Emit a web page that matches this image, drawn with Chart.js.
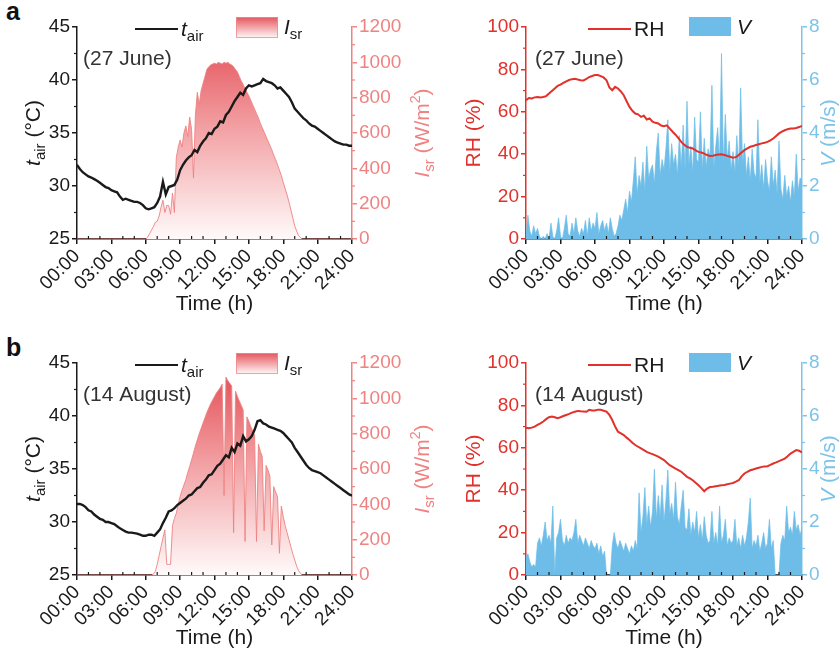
<!DOCTYPE html>
<html>
<head>
<meta charset="utf-8">
<script src="https://cdn.jsdelivr.net/npm/chart.js@4.4.1/dist/chart.umd.min.js"></script>
<style>
  body { margin: 0; background: #fff; }
  #wrap { position: relative; width: 839px; height: 650px; overflow: hidden; }
  canvas { position: absolute; }
  .tag { position: absolute; font: bold 25px 'Liberation Sans', Arial, sans-serif; color: #111; }
</style>
</head>
<body>
<div id="wrap">
  <div class="tag" style="left:6px;top:-3px">a</div>
  <div class="tag" style="left:6px;top:333px">b</div>
  <canvas id="ca" width="440" height="325" style="left:0;top:0"></canvas>
  <canvas id="cb" width="399" height="325" style="left:440px;top:0"></canvas>
  <canvas id="cc" width="440" height="320" style="left:0;top:330px"></canvas>
  <canvas id="cd" width="399" height="320" style="left:440px;top:330px"></canvas>
</div>
<script>
const FONT = "'Liberation Sans', Arial, sans-serif";

// sampling steps (hours) of the series below
const STEP_T = 0.25;   // t_air and RH, every 15 min
const STEP_S = 1 / 6;  // I_sr and V, every 10 min

const xTicks = ['00:00', '03:00', '06:00', '09:00', '12:00', '15:00', '18:00', '21:00', '24:00'];
const dates = ['(27 June)', '(14 August)'];

// 27 June
const tairJune = [
  32.0, 31.6, 31.3, 31.1, 30.9, 30.8, 30.65, 30.5, 30.3, 30.1, 29.9, 29.8,
  29.6, 29.5, 29.4, 29.0, 28.7, 28.8, 28.7, 28.6, 28.5, 28.5, 28.4, 28.2,
  27.9, 27.8, 27.9, 28.0, 28.4, 29.0, 30.4, 29.2, 29.9, 30.0, 30.1, 30.6,
  31.5, 32.0, 32.4, 32.7, 32.9, 33.4, 33.2, 33.8, 34.2, 34.5, 35.0, 34.9,
  35.4, 35.6, 36.1, 36.0, 36.7, 37.0, 37.5, 38.0, 38.4, 38.8, 38.6, 39.2,
  39.5, 39.4, 39.5, 39.6, 39.7, 40.1, 39.9, 39.8, 39.7, 39.5, 39.2, 39.3,
  39.0, 38.7, 38.4, 37.9, 37.3, 37.0, 36.7, 36.4, 36.2, 35.9, 35.7, 35.6,
  35.4, 35.2, 35.0, 34.8, 34.6, 34.4, 34.2, 34.1, 34.0, 33.9, 33.9, 33.8,
  33.8
];
const isrJune = [
  0, 0, 0, 0, 0, 0,  0, 0, 0, 0, 0, 0,  0, 0, 0, 0, 0, 0,
  0, 0, 0, 0, 0, 0,  0, 0, 0, 0, 0, 0,  0, 0, 0, 0, 0, 0,
  0, 10, 30, 50, 70, 95,
  100, 130, 180, 220, 150, 190,
  190, 140, 260, 150, 460, 520,
  560, 520, 600, 640, 580, 690,
  620, 345, 700, 830, 760, 840,
  880, 920, 960, 975, 985, 990,
  995, 990, 1000, 995, 990, 1000,
  995, 1000, 990, 985, 975, 960,
  945, 920, 895, 875, 850, 830,
  810, 785, 760, 735, 710, 685,
  655, 630, 605, 580, 555, 530,
  505, 475, 450, 420, 390, 360,
  320, 285, 250, 210, 165, 120,
  75, 45, 20, 8, 0, 0,
  0, 0, 0, 0, 0, 0,  0, 0, 0, 0, 0, 0,  0, 0, 0, 0, 0, 0,
  0, 0, 0, 0, 0, 0,  0
];
const rhJune = [
  65.5, 66.5, 66.3, 66.8, 67.0, 66.8, 67.0, 67.4, 68.6, 69.8, 71.0, 72.2,
  72.8, 73.6, 74.4, 75.0, 75.4, 75.6, 75.2, 74.9, 74.8, 75.5, 76.4, 76.9,
  77.3, 77.3, 76.8, 76.2, 74.9, 71.5, 70.2, 71.8, 71.0, 69.6, 67.8, 65.0,
  62.3, 60.5, 59.2, 58.8, 57.6, 58.2, 56.4, 56.9, 55.3, 54.8, 54.5, 53.5,
  53.2, 53.6, 52.1, 50.6, 49.2, 47.6, 45.8, 44.5, 43.5, 43.0, 42.7, 41.8,
  41.1, 40.8, 40.3, 39.6, 39.2, 39.3, 39.6, 39.9, 40.0, 39.6, 39.2, 38.8,
  38.3, 38.6, 39.6, 40.8, 41.9, 42.7, 43.5, 43.9, 44.3, 44.7, 45.1, 45.4,
  45.8, 46.5, 47.4, 48.6, 49.8, 50.6, 51.3, 51.8, 52.1, 52.1, 52.4, 52.8,
  53.4
];
const vJune = [
  0.1, 0.9, 0.3, 0.1, 0.5, 0.2,
  0.4, 0.1, 0.0, 0.1, 0.0, 0.2,
  0.0, 0.6, 0.1, 0.0, 0.3, 0.8,
  0.1, 0.0, 0.4, 0.9, 0.2, 0.1,
  0.6, 0.2, 0.8, 0.3, 0.1, 0.4,
  0.2, 0.7, 0.1, 0.8, 0.3, 0.6,
  0.4, 1.0, 0.2, 0.5, 0.7, 0.3,
  0.6, 0.2, 0.8, 0.4, 0.1, 0.2,
  0.5, 0.9, 0.7, 1.1, 1.5, 1.0,
  1.8, 1.4, 2.2, 3.1, 1.7, 2.4,
  2.0, 2.9, 1.8, 3.5, 2.3, 2.6,
  2.8, 2.1, 3.3, 4.0, 2.4, 3.0,
  2.6, 3.4, 4.5, 2.5, 3.6, 2.8,
  3.2, 2.4, 3.9, 2.7, 4.3, 2.6,
  5.2, 2.8, 3.5, 2.5, 4.6, 3.0,
  2.9, 4.8, 2.6, 3.8, 2.7, 3.4,
  3.1, 5.8, 2.7, 3.5, 4.2, 2.9,
  7.0, 2.8, 4.7, 3.0, 3.7, 2.6,
  3.3, 2.5, 3.9, 2.7, 5.7, 2.8,
  3.6, 2.4, 3.1, 2.2, 3.4, 2.5,
  2.3, 4.5, 2.1, 2.8, 1.9, 3.0,
  2.2, 1.8, 3.1, 2.0, 2.6, 1.7,
  3.7, 1.9, 1.5, 2.4, 1.6, 2.0,
  1.4, 2.2, 1.6, 3.2, 1.8, 2.3,
  2.2
];

// 14 August
const tairAug = [
  31.7, 31.7, 31.6, 31.4, 31.1, 31.0, 30.7, 30.5, 30.3, 30.2, 30.0, 30.0,
  29.9, 29.8, 29.6, 29.4, 29.25, 29.1, 29.0, 29.0, 28.95, 28.9, 28.8, 28.7,
  28.7, 28.8, 28.8, 28.7, 29.0, 29.3, 29.9, 30.4, 31.0, 31.1, 31.3, 31.6,
  31.8, 32.0, 32.2, 32.5, 32.6, 32.9, 33.2, 33.3, 33.7, 34.0, 34.4, 34.5,
  34.9, 35.3, 35.5, 35.9, 36.3, 36.1, 37.0, 36.6, 37.4, 37.2, 38.1, 37.6,
  37.8, 38.1, 38.7, 39.5, 39.6, 39.3, 39.2, 39.0, 38.9, 38.8, 38.7, 38.6,
  38.4, 38.1, 37.8, 37.5, 37.0, 36.6, 36.2, 35.8, 35.4, 35.1, 34.9, 34.8,
  34.7, 34.6, 34.4, 34.2, 34.0, 33.8, 33.6, 33.4, 33.2, 33.0, 32.8, 32.6,
  32.5
];
const isrAug = [
  0, 0, 0, 0, 0, 0,  0, 0, 0, 0, 0, 0,  0, 0, 0, 0, 0, 0,
  0, 0, 0, 0, 0, 0,  0, 0, 0, 0, 0, 0,  0, 0, 0, 0, 0, 0,
  0, 0, 0, 0, 5, 20,
  60, 110, 160, 210, 255, 60,
  60, 60, 280, 320, 350, 400,
  444, 480, 510, 540, 580, 615,
  652, 690, 730, 765, 800, 830,
  860, 890, 920, 945, 970, 990,
  1010, 1030, 1045, 1060, 1080, 450,
  1120, 1100, 1085, 1070, 240, 1040,
  1011, 985, 960, 935, 190, 895,
  870, 840, 815, 790, 190, 740,
  700, 670, 250, 620, 595, 560,
  170, 500, 470, 444, 123, 390,
  330, 280, 240, 200, 160, 120,
  85, 50, 25, 9, 0, 0,
  0, 0, 0, 0, 0, 0,  0, 0, 0, 0, 0, 0,  0, 0, 0, 0, 0, 0,
  0, 0, 0, 0, 0, 0,  0
];
const rhAug = [
  69.5, 69.2, 69.5, 70.0, 70.8, 71.5, 72.4, 73.5, 74.4, 74.8, 74.4, 74.0,
  74.4, 75.0, 75.5, 76.0, 76.6, 77.0, 77.4, 77.2, 77.1, 77.0, 77.9, 77.6,
  77.6, 78.0, 77.9, 77.5, 77.1, 75.5, 73.1, 70.0, 67.6, 66.8, 66.0, 64.8,
  63.7, 62.4, 61.3, 60.5, 59.7, 58.9, 58.1, 57.5, 57.0, 56.4, 55.8, 55.0,
  54.2, 53.0, 51.8, 51.0, 50.2, 49.5, 48.7, 47.5, 46.3, 45.6, 44.7, 43.5,
  42.3, 41.0, 39.5, 40.8, 41.5, 41.6, 41.9, 42.1, 42.3, 42.5, 42.8, 43.1,
  43.4, 44.0, 44.7, 46.5, 47.9, 48.7, 49.4, 49.8, 50.2, 50.6, 51.0, 51.2,
  51.3, 51.9, 52.6, 53.1, 53.7, 54.3, 54.9, 56.0, 57.3, 58.1, 58.9, 58.6,
  57.8
];
const vAug = [
  0.7, 0.8, 0.5, 0.3, 0.4, 0.3,
  1.2, 1.4, 1.1, 1.5, 2.0, 1.3,
  1.5, 1.2, 2.6, 0.0, 1.4, 1.6,
  2.1, 1.3, 1.1, 1.5, 1.2, 1.4,
  1.3, 1.6, 2.1, 1.2, 1.5, 1.3,
  1.1, 1.4, 1.2, 1.0, 1.3, 1.1,
  1.0, 1.2, 0.8, 1.1, 0.7, 0.9,
  0.0, 0.0, 0.0, 1.1, 1.6, 1.2,
  1.0, 1.3, 1.1, 0.9, 1.2, 1.0,
  0.8, 1.1, 0.9, 1.3, 1.0, 3.1,
  1.6, 2.2, 3.3, 1.9, 2.6, 1.8,
  2.4, 4.0, 2.1, 3.0, 2.2, 3.4,
  2.0, 2.8, 3.96, 2.3, 2.7, 2.1,
  3.5, 2.2, 1.9, 2.6, 3.2, 1.8,
  1.7, 2.5, 1.5, 2.0, 1.6, 2.4,
  1.4, 1.9, 1.3, 2.2, 1.5, 1.2,
  1.3, 2.4, 1.2, 1.6, 1.1, 2.6,
  1.2, 1.5, 2.1, 1.1, 1.4, 1.2,
  1.3, 2.1, 1.1, 1.4, 1.0, 1.5,
  1.1, 1.4, 2.0, 2.9, 1.0, 1.3,
  1.1, 1.5, 0.9, 1.2, 1.6, 1.0,
  1.2, 2.1, 1.0, 1.3, 0.0, 0.0,
  0.0, 1.2, 1.5, 1.3, 2.6, 1.6,
  1.8, 1.5, 2.4, 1.7, 1.9, 1.5,
  1.8
];

const BLACK = '#1a1a1a';
const ISR_AXIS = '#ef8282';
const RH_RED = '#e2302a';
const V_BLUE = '#6dbde8';
const V_AXIS = '#7cc3e8';

const pts = (vals, step) => vals.map((v, i) => ({ x: i * step, y: v }));

function isrFill(c) {
  const a = c.chart.chartArea;
  if (!a) return 'rgba(236,110,115,0.6)';
  const g = c.chart.ctx.createLinearGradient(0, a.top, 0, a.bottom);
  g.addColorStop(0, 'rgb(226,72,80)');
  g.addColorStop(0.5, 'rgb(243,165,168)');
  g.addColorStop(1, 'rgb(255,250,250)');
  return g;
}

// draw text made of pieces with their own font and vertical shift
function rich(ctx, parts, x, y, align) {
  let w = 0;
  parts.forEach(p => { ctx.font = p.f + ' ' + FONT; w += ctx.measureText(p.t).width; });
  let cx = align === 'center' ? x - w / 2 : x;
  ctx.textAlign = 'left';
  ctx.textBaseline = 'alphabetic';
  parts.forEach(p => {
    ctx.font = p.f + ' ' + FONT;
    ctx.fillText(p.t, cx, y + (p.dy || 0));
    cx += ctx.measureText(p.t).width;
  });
}

const decoPlugin = {
  id: 'deco',
  afterDraw(chart, args, o) {
    const ctx = chart.ctx, a = chart.chartArea;
    ctx.save();
    // minor ticks
    const xs = chart.scales.x;
    ctx.lineWidth = 1.2;
    ctx.strokeStyle = BLACK;
    for (let h = 1; h < 24; h++) {
      if (h % 3 === 0) continue;
      const px = xs.getPixelForValue(h);
      ctx.beginPath(); ctx.moveTo(px, a.bottom); ctx.lineTo(px, a.bottom - 3); ctx.stroke();
    }
    ['yL', 'yR'].forEach(k => {
      const s = chart.scales[k];
      const left = s.position === 'left';
      const x0 = left ? a.left : a.right;
      ctx.strokeStyle = s.options.border.color;
      for (let i = 0; i < s.ticks.length - 1; i++) {
        const py = s.getPixelForValue((s.ticks[i].value + s.ticks[i + 1].value) / 2);
        ctx.beginPath(); ctx.moveTo(x0, py); ctx.lineTo(x0 + (left ? -3 : 3), py); ctx.stroke();
      }
    });

    // axis titles
    const midY = (a.top + a.bottom) / 2;
    ctx.fillStyle = BLACK;
    rich(ctx, [{ t: 'Time (h)', f: '21px' }], (a.left + a.right) / 2, a.bottom + o.timeDy, 'center');
    [[o.leftTitle, a.left - o.leftTitleDx, o.leftColor], [o.rightTitle, a.right + o.rightTitleDx, o.rightColor]]
      .forEach(([parts, x, col]) => {
        ctx.save();
        ctx.translate(x, midY);
        ctx.rotate(-Math.PI / 2);
        ctx.fillStyle = col;
        rich(ctx, parts, 0, 0, 'center');
        ctx.restore();
      });

    // legend
    const lx = a.left + o.legendDx;
    ctx.strokeStyle = o.lineColor;
    ctx.lineWidth = 2;
    ctx.beginPath(); ctx.moveTo(lx, a.top + 2); ctx.lineTo(lx + 43, a.top + 2); ctx.stroke();
    ctx.fillStyle = BLACK;
    rich(ctx, o.lineLabel, lx + 46, a.top + 9, 'left');
    const bx = lx + 101, by = a.top - 10;
    if (o.boxGradient) {
      const g = ctx.createLinearGradient(0, by, 0, by + 21);
      g.addColorStop(0, 'rgb(228,85,92)');
      g.addColorStop(1, 'rgb(255,248,248)');
      ctx.fillStyle = g;
      ctx.fillRect(bx, by, 42, 21);
      ctx.strokeStyle = 'rgba(238,140,140,0.8)';
      ctx.lineWidth = 1;
      ctx.strokeRect(bx + 0.5, by + 0.5, 41, 20);
    } else {
      ctx.fillStyle = V_BLUE;
      ctx.fillRect(bx, by, 42, 19);
    }
    ctx.fillStyle = BLACK;
    rich(ctx, o.boxLabel, bx + 48, a.top + 7, 'left');

    // date note
    ctx.fillStyle = '#333';
    rich(ctx, [{ t: o.note, f: '21px' }], a.left + o.noteDx, a.top + 38, 'left');
    ctx.restore();
  }
};

function panel(id, cfg) {
  const tickFont = { family: FONT, size: 19 };
  new Chart(document.getElementById(id), {
    type: 'line',
    data: { datasets: cfg.datasets },
    plugins: [decoPlugin],
    options: {
      responsive: false,
      animation: false,
      layout: { padding: { top: cfg.top, left: 0, right: 0, bottom: 0 } },
      plugins: { legend: { display: false }, tooltip: { enabled: false }, deco: cfg.deco },
      elements: { point: { radius: 0 }, line: { tension: 0 } },
      scales: {
        x: {
          type: 'linear', min: 0, max: 24,
          ticks: {
            stepSize: 3, autoSkip: false, maxRotation: 45, minRotation: 45, padding: 1,
            color: BLACK, font: tickFont,
            callback: v => xTicks[v / 3]
          },
          grid: { display: true, drawOnChartArea: false, tickLength: 5, color: BLACK, lineWidth: 1.5 },
          border: { color: BLACK, width: 1.5 },
          afterFit: s => { s.height = cfg.xHeight; }
        },
        yL: {
          position: 'left', min: cfg.yL[0], max: cfg.yL[1],
          ticks: { stepSize: cfg.yL[2], color: cfg.yLColor, font: tickFont, padding: 2, callback: v => String(v) },
          grid: { display: true, drawOnChartArea: false, tickLength: 5, color: cfg.yLAxis, lineWidth: 1.5 },
          border: { color: cfg.yLAxis, width: 1.5 },
          afterFit: s => { s.width = cfg.leftW; }
        },
        yR: {
          position: 'right', min: cfg.yR[0], max: cfg.yR[1],
          ticks: { stepSize: cfg.yR[2], color: cfg.yRColor, font: tickFont, padding: 2, callback: v => String(v) },
          grid: { display: true, drawOnChartArea: false, tickLength: 5, color: cfg.yRAxis, lineWidth: 1.5 },
          border: { color: cfg.yRAxis, width: 1.5 },
          afterFit: s => { s.width = cfg.rightW; }
        }
      }
    }
  });
}

const tairTitle = [{ t: 't', f: 'italic 21px' }, { t: 'air', f: '15px', dy: 5 }, { t: ' (°C)', f: '21px' }];
const isrTitle = [{ t: 'I', f: 'italic 21px' }, { t: 'sr', f: '15px', dy: 5 }, { t: ' (W/m', f: '21px' }, { t: '2', f: '14px', dy: -9 }, { t: ')', f: '21px' }];
const rhTitle = [{ t: 'RH (%)', f: '21px' }];
const vTitle = [{ t: 'V', f: 'italic 21px' }, { t: ' (m/s)', f: '21px' }];

function tempPanel(id, tair, isr, note, top, xHeight, timeDy) {
  panel(id, {
    top, xHeight, leftW: 77, rightW: 88,
    yL: [25, 45, 5], yLColor: BLACK, yLAxis: BLACK,
    yR: [0, 1200, 200], yRColor: ISR_AXIS, yRAxis: ISR_AXIS,
    datasets: [
      { data: pts(tair, STEP_T), yAxisID: 'yL', borderColor: BLACK, borderWidth: 2.4, fill: false },
      { data: pts(isr, STEP_S), yAxisID: 'yR', borderColor: 'rgba(238,130,130,0.9)', borderWidth: 1,
        fill: 'origin', backgroundColor: isrFill }
    ],
    deco: {
      note, noteDx: 6, timeDy,
      leftTitle: tairTitle, leftTitleDx: 37, leftColor: BLACK,
      rightTitle: isrTitle, rightTitleDx: 77, rightColor: ISR_AXIS,
      legendDx: 58, lineColor: BLACK, boxGradient: true,
      lineLabel: [{ t: 't', f: 'italic 21px' }, { t: 'air', f: '15px', dy: 5 }],
      boxLabel: [{ t: 'I', f: 'italic 21px' }, { t: 'sr', f: '15px', dy: 5 }]
    }
  });
}

function humidPanel(id, rh, v, note, top, xHeight, timeDy) {
  panel(id, {
    top, xHeight, leftW: 86, rightW: 37,
    yL: [0, 100, 20], yLColor: RH_RED, yLAxis: RH_RED,
    yR: [0, 8, 2], yRColor: V_AXIS, yRAxis: V_AXIS,
    datasets: [
      { data: pts(rh, STEP_T), yAxisID: 'yL', borderColor: RH_RED, borderWidth: 2, fill: false },
      { data: pts(v, STEP_S), yAxisID: 'yR', borderColor: 'rgba(109,189,232,0.9)', borderWidth: 0.8,
        fill: 'origin', backgroundColor: V_BLUE }
    ],
    deco: {
      note, noteDx: 9, timeDy,
      leftTitle: rhTitle, leftTitleDx: 46, leftColor: RH_RED,
      rightTitle: vTitle, rightTitleDx: 33, rightColor: V_AXIS,
      legendDx: 62, lineColor: RH_RED, boxGradient: false,
      lineLabel: [{ t: 'RH', f: '21px' }],
      boxLabel: [{ t: 'V', f: 'italic 21px' }]
    }
  });
}

tempPanel('ca', tairJune, isrJune, dates[0], 27, 86, 71);
humidPanel('cb', rhJune, vJune, dates[0], 27, 86, 71);
tempPanel('cc', tairAug, isrAug, dates[1], 33, 75, 69);
humidPanel('cd', rhAug, vAug, dates[1], 33, 75, 69);
</script>
</body>
</html>
